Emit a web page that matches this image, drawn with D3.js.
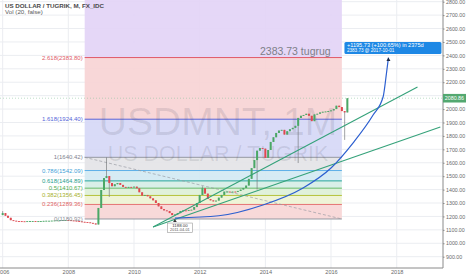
<!DOCTYPE html>
<html><head><meta charset="utf-8">
<script src="https://cdn.jsdelivr.net/npm/d3@7"></script>
<style>body{margin:0;background:#fff}svg{display:block;font-family:"Liberation Sans",Arial,sans-serif}</style>
</head><body><svg id="c" width="466" height="275"></svg>
<script>
// ---------- DATA ----------
const firstMonth = "2006-01-01";
const firstOpen = 1210;
const closes = [
  1225,1205,1190,1172,1168,1166,1165,1164,1163,1165,1166,1166, // 2006
  1165,1165,1166,1167,1168,1168,1169,1170,1171,1172,1173,1173, // 2007
  1172,1170,1168,1166,1163,1160,1158,1156,1152,1148,1140,1263, // 2008
  1397,1486,1501,1449,1425,1440,1449,1435,1420,1415,1420,1418, // 2009
  1422,1410,1380,1355,1360,1350,1335,1320,1300,1275,1255,1245, // 2010
  1240,1225,1210,1215,1225,1240,1245,1243,1248,1250,1270,1300, // 2011
  1360,1410,1370,1330,1320,1312,1318,1340,1360,1385,1385,1383, // 2012
  1385,1383,1390,1400,1412,1430,1480,1560,1620,1690,1710,1705, // 2013
  1636,1695,1755,1790,1822,1840,1845,1810,1835,1850,1860,1875, // 2014
  1934,1950,1956,1965,1950,1910,1960,1965,1975,1980,1982,1985, // 2015
  1990,2000,2025,2015,1985,1975,2080.86                        // 2016
];
const wickDates = ["2006-01-01","2009-03-01","2009-04-01","2012-02-01","2013-10-01","2015-01-01","2016-06-01"];
const wickHighs = [1240, 1640.42, null, 1425, null, null, null];
const wickLows  = [null, null, 1345, null, 1400, 1598, 1770];

const yTicks = [900,1000,1100,1200,1300,1400,1500,1600,1700,1800,1900,2000,2200,2300,2400,2500,2600,2700,2800];
const xTickYears = [2006,2008,2010,2012,2014,2016,2018];

const fibRatios = ["0","0.236","0.382","0.5","0.618","0.786","1","1.618","2.618"];
const fibValues = [1180.92,1289.36,1356.45,1410.67,1464.89,1542.09,1640.42,1924.40,2383.80];
const fibStart = "2008-07-01", fibEnd = "2016-05-01";

const trendDates  = [["2010-08-01","2018-08-20"],["2010-08-01","2019-05-01"]];
const trendValues = [[1121,2165],[1121,1866]];

const curveDates  = ["2011-04-01","2012-08-01","2013-12-05","2015-02-24","2016-01-01","2016-09-01","2017-04-13","2017-08-03","2017-09-09","2017-10-01"];
const curveValues = [1188,1205,1285,1412,1561,1747,1956,2092,2267,2383.73];

const lowPoint = {date:"2011-04-01", value:1188.00};
const targetPoint = {date:"2017-10-01", value:2383.73};
const lastPrice = 2080.86;

// ---------- STYLES ----------
const zoneFill = ["#f7d6d6","#eef3d4","#ddf0d8","#d6eee6","#d3e9f3","#e4e4e7","#d6d8f6","#f7d4d5","#e3d4f6"];
const lineCol  = ["#9598a1","#e57373","#b5c23a","#66bb6a","#26a69a","#5fb0e8","#9598a1","#5a62d8","#e05a68"];
const textCol  = ["#8a8d96","#e06464","#a6b02e","#4caf50","#26a08e","#3f9fd8","#808390","#5566d8","#e05a68"];

// ---------- SCALES ----------
const parse = d3.timeParse("%Y-%m-%d");
const svg = d3.select("#c");
const plotR = 443, plotB = 268;
const x = d3.scaleTime().domain([parse("2008-01-01"), parse("2016-01-01")]).range([68.3, 331]);
const y = d3.scaleLinear().domain([900, 2800]).range([256.7, 1.7]);

svg.append("defs").append("clipPath").attr("id","clip")
  .append("rect").attr("x",0).attr("y",0).attr("width",plotR).attr("height",plotB);
const plot = svg.append("g").attr("clip-path","url(#clip)");

// grid
plot.selectAll(".hg").data(yTicks.concat([2100])).enter().append("line")
  .attr("x1",0).attr("x2",plotR).attr("y1",d=>y(d)).attr("y2",d=>y(d))
  .attr("stroke","#ebedf1").attr("stroke-width",1);
plot.selectAll(".vg").data(xTickYears).enter().append("line")
  .attr("y1",0).attr("y2",plotB).attr("x1",d=>x(new Date(d,0,1))).attr("x2",d=>x(new Date(d,0,1)))
  .attr("stroke","#ebedf1").attr("stroke-width",1);

// fib zones
const fx0 = x(parse(fibStart)), fx1 = x(parse(fibEnd));
const tops = fibValues.slice(1).concat([y.invert(0)]);
plot.selectAll(".zone").data(fibValues).enter().append("rect")
  .attr("x",fx0).attr("width",fx1-fx0)
  .attr("y",(d,i)=>y(tops[i])).attr("height",(d,i)=>y(d)-y(tops[i]))
  .attr("fill",(d,i)=>zoneFill[i]).attr("opacity",0.92);
plot.selectAll(".fl").data(fibValues).enter().append("line")
  .attr("x1",fx0).attr("x2",fx1).attr("y1",d=>y(d)).attr("y2",d=>y(d))
  .attr("stroke",(d,i)=>lineCol[i]).attr("stroke-width",1);
// fib labels
svg.selectAll(".flab").data(fibValues).enter().append("text")
  .attr("x",fx0-2).attr("y",d=>y(d)+2).attr("text-anchor","end")
  .attr("font-size",6).attr("fill",(d,i)=>textCol[i])
  .text((d,i)=>fibRatios[i]+"("+d.toFixed(2)+")");
// fib diagonal
plot.append("line")
  .attr("x1",fx0).attr("y1",y(fibValues[6])).attr("x2",fx1).attr("y2",y(fibValues[0]))
  .attr("stroke","#9598a1").attr("stroke-width",0.8).attr("stroke-dasharray","3,2").attr("opacity",0.8);

// watermark
plot.append("text").attr("x",218).attr("y",135).attr("text-anchor","middle")
  .attr("font-size",39).attr("fill","rgba(60,62,80,0.13)").text("USDMNT, 1M");
plot.append("text").attr("x",218).attr("y",161).attr("text-anchor","middle")
  .attr("font-size",21.5).attr("fill","rgba(60,62,80,0.13)").text("US DOLLAR / TUGRIK");

// price line
plot.append("line").attr("x1",0).attr("x2",plotR).attr("y1",y(lastPrice)).attr("y2",y(lastPrice))
  .attr("stroke","#8cc7a0").attr("stroke-width",0.8).attr("stroke-dasharray","1,2").attr("opacity",0.7);

// candles
const candles = closes.map((c,i)=>{
  const date = d3.timeMonth.offset(parse(firstMonth), i);
  const o = i===0 ? firstOpen : closes[i-1];
  let h = Math.max(o,c), l = Math.min(o,c);
  const k = wickDates.indexOf(d3.timeFormat("%Y-%m-%d")(date));
  if (k>=0){ if(wickHighs[k]!=null) h=wickHighs[k]; if(wickLows[k]!=null) l=wickLows[k]; }
  return {date,o,h,l,c};
});
const cg = plot.append("g");
cg.selectAll(".wick").data(candles).enter().append("line")
  .attr("x1",d=>x(d.date)).attr("x2",d=>x(d.date)).attr("y1",d=>y(d.h)).attr("y2",d=>y(d.l))
  .attr("stroke","#7a7c80").attr("stroke-width",0.7);
cg.selectAll(".body").data(candles).enter().append("rect")
  .attr("x",d=>x(d.date)-1).attr("width",2)
  .attr("y",d=>y(Math.max(d.o,d.c))).attr("height",d=>Math.max(0.9,Math.abs(y(d.o)-y(d.c))))
  .attr("fill",d=>d.c>=d.o?"#4aa866":"#e2474f");

// trend lines
trendDates.forEach((td,i)=>{
  plot.append("line")
    .attr("x1",x(parse(td[0]))).attr("y1",y(trendValues[i][0]))
    .attr("x2",x(parse(td[1]))).attr("y2",y(trendValues[i][1]))
    .attr("stroke","#35a27a").attr("stroke-width",1.1);
});
// projection curve
const curvePts = curveDates.map((d,i)=>[x(parse(d)), y(curveValues[i])]);
plot.append("path").attr("d", d3.line().curve(d3.curveMonotoneX)(curvePts))
  .attr("fill","none").attr("stroke","#2c5fd0").attr("stroke-width",1.2);

// target marker + callout
const tx = x(parse(targetPoint.date)), ty = y(targetPoint.value);
plot.append("path").attr("d",`M${tx-2},${ty+3.5}L${tx+2},${ty+3.5}L${tx},${ty}Z`).attr("fill","#1d2a44");
svg.append("rect").attr("x",tx-44).attr("y",ty-15.5).attr("width",97).attr("height",12).attr("rx",1.5)
  .attr("fill","#1e88e5");
svg.append("text").attr("x",tx-41.5).attr("y",ty-10.3).attr("font-size",5.6).attr("fill","#fff")
  .text("+1195.73 (+100.65%) in 2375d");
svg.append("text").attr("x",tx-41.5).attr("y",ty-5.3).attr("font-size",4.6).attr("fill","#fff")
  .text("2383.73 @ 2017-10-01");
svg.append("text").attr("x",260).attr("y",y(targetPoint.value)-3).attr("font-size",10.5)
  .attr("fill","#7d7f88").text("2383.73 tugrug");

// low marker + label
const lx = x(parse(lowPoint.date)), ly = y(lowPoint.value);
plot.append("path").attr("d",`M${lx-1.8},${ly+4}L${lx+1.8},${ly+4}L${lx},${ly+1}Z`).attr("fill","#333");
svg.append("rect").attr("x",lx-7.5).attr("y",ly+5).attr("width",25).attr("height",9.5)
  .attr("fill","#fff").attr("stroke","#9a9a9a").attr("stroke-width",0.6);
svg.append("text").attr("x",lx+5).attr("y",ly+9).attr("text-anchor","middle").attr("font-size",4.4)
  .attr("fill","#333").text(lowPoint.value.toFixed(2));
svg.append("text").attr("x",lx+5).attr("y",ly+13.2).attr("text-anchor","middle").attr("font-size",3.9)
  .attr("fill","#555").text("2011-04-01");

// axes
const ya = d3.axisRight(y).tickValues(yTicks).tickFormat(d3.format(".2f")).tickSize(1.5).tickPadding(1.5);
const yg = svg.append("g").attr("transform",`translate(${plotR},0)`).call(ya);
yg.select(".domain").attr("d",`M0,0V${plotB}`).attr("stroke","#8a8a8a");
yg.selectAll(".tick line").attr("stroke","#8a8a8a");
yg.selectAll("text").attr("font-size",5.3).attr("fill","#6a6a6a").attr("font-family","Liberation Sans, Arial");

const xa = d3.axisBottom(x).tickValues(xTickYears.map(d=>new Date(d,0,1))).tickFormat(d3.timeFormat("%Y")).tickSize(0).tickPadding(2);
const xg = svg.append("g").attr("transform",`translate(0,${plotB})`).call(xa);
xg.select(".domain").attr("d",`M0,0H${plotR}`).attr("stroke","#8a8a8a");
xg.selectAll("text").attr("font-size",5.6).attr("fill","#6a6a6a").attr("font-family","Liberation Sans, Arial");

// last price label
svg.append("rect").attr("x",plotR).attr("y",y(lastPrice)-4.3).attr("width",23).attr("height",8.6).attr("fill","#53a870");
svg.append("text").attr("x",plotR+1.8).attr("y",y(lastPrice)+2).attr("font-size",5.3).attr("fill","#fff")
  .text(lastPrice.toFixed(2));

// legend
svg.append("text").attr("x",5).attr("y",7.5).attr("font-size",6.2).attr("font-weight","bold").attr("fill","#4a4a4a")
  .text("US DOLLAR / TUGRIK, M, FX_IDC");
svg.append("text").attr("x",5).attr("y",13.6).attr("font-size",6.2).attr("fill","#5a5a5a")
  .text("Vol (20, false)");
</script></body></html>
